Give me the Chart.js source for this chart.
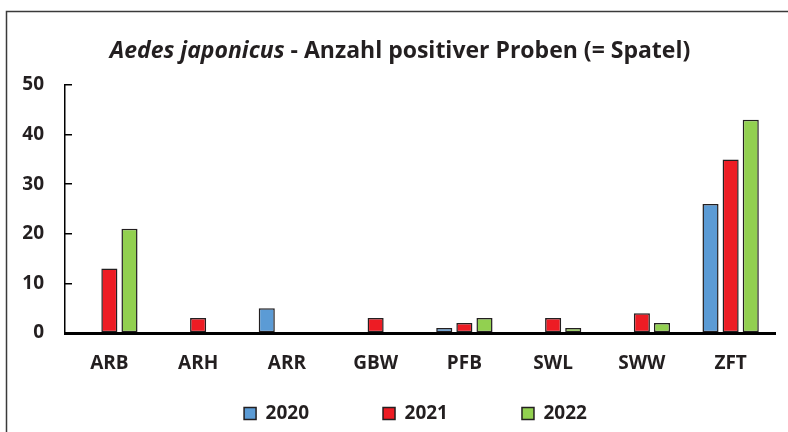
<!DOCTYPE html>
<html>
<head>
<meta charset="utf-8">
<script src="https://cdn.jsdelivr.net/npm/chart.js@4/dist/chart.umd.min.js"></script>
<style>
  body { margin: 0; background: #fff; }
  canvas { display: block; }
</style>
</head>
<body>
<canvas id="probenChart" width="788" height="432"></canvas>
<script>
const categories = ['ARB', 'ARH', 'ARR', 'GBW', 'PFB', 'SWL', 'SWW', 'ZFT'];
const years = ['2020', '2021', '2022'];
const values2020 = [0, 0, 5, 0, 1, 0, 0, 26];
const values2021 = [13, 3, 0, 3, 2, 3, 4, 35];
const values2022 = [21, 0, 0, 0, 3, 1, 2, 43];
const yTicks = [0, 10, 20, 30, 40, 50];

const FONT = '"Open Sans", Lato, sans-serif';
const TEXT_COLOR = '#231f20';

// rahmen + titel (kursiver Artname, Rest normal fett)
const framePlugin = {
    id: 'frame',
    beforeDraw(chart) {
        const ctx = chart.ctx;
        ctx.save();
        ctx.strokeStyle = '#3a3a3a';
        ctx.lineWidth = 1.5;
        ctx.strokeRect(6.5, 11.5, 900, 600);
        ctx.restore();
    },
    afterDraw(chart) {
        const ctx = chart.ctx;
        const part1 = 'Aedes japonicus';
        const part2 = ' - Anzahl positiver Proben (= Spatel)';
        ctx.save();
        ctx.fillStyle = TEXT_COLOR;
        ctx.textBaseline = 'alphabetic';
        ctx.font = 'italic bold 23px ' + FONT;
        const w1 = ctx.measureText(part1).width;
        ctx.font = 'bold 23px ' + FONT;
        const w2 = ctx.measureText(part2).width;
        const x0 = 400 - (w1 + w2) / 2;
        ctx.font = 'italic bold 23px ' + FONT;
        ctx.fillText(part1, x0, 58);
        ctx.font = 'bold 23px ' + FONT;
        ctx.fillText(part2, x0 + w1, 58);
        ctx.restore();
    }
};

// legende flach halten, dann verschieben (clip-bereich mitziehen)
const legendPlugin = {
    id: 'legendFit',
    beforeInit(chart) {
        const fit = chart.legend.fit;
        chart.legend.fit = function () {
            fit.call(this);
            this.height = 39;
        };
    },
    afterLayout(chart) {
        const l = chart.legend;
        l.top -= 63;
        l.bottom = chart.height;
        l.height = l.bottom - l.top;
        l.left += 28;
        l.right += 28;
    }
};

const barStyle = { borderColor: TEXT_COLOR, borderWidth: 1.5, borderSkipped: false };

new Chart(document.getElementById('probenChart'), {
    type: 'bar',
    data: {
        labels: categories,
        datasets: [
            Object.assign({ label: years[0], data: values2020, backgroundColor: '#5b9bd5' }, barStyle),
            Object.assign({ label: years[1], data: values2021, backgroundColor: '#ed1c24' }, barStyle),
            Object.assign({ label: years[2], data: values2022, backgroundColor: '#92d050' }, barStyle)
        ]
    },
    options: {
        responsive: false,
        animation: false,
        devicePixelRatio: 1,
        categoryPercentage: 0.68,
        barPercentage: 0.8,
        layout: {
            padding: { left: 0, right: 13, top: 85, bottom: 0 }
        },
        plugins: {
            title: { display: false },
            tooltip: { enabled: false },
            legend: {
                display: true,
                position: 'bottom',
                labels: {
                    boxWidth: 12,
                    boxHeight: 12,
                    padding: 74,
                    color: TEXT_COLOR,
                    font: { family: FONT, size: 19, weight: 'bold' }
                }
            }
        },
        scales: {
            x: {
                afterFit: s => { s.height = 60; },
                grid: { display: true, drawOnChartArea: false, drawTicks: false },
                border: { color: '#000', width: 3 },
                ticks: {
                    padding: 19,
                    color: TEXT_COLOR,
                    font: { family: FONT, size: 19, weight: 'bold' }
                }
            },
            y: {
                min: 0,
                max: 50,
                afterFit: s => { s.width = 65; },
                afterBuildTicks: s => { s.ticks = yTicks.map(v => ({ value: v })); },
                grid: { display: true, drawOnChartArea: false, drawTicks: true, tickLength: -7, color: '#000', lineWidth: 1.5 },
                border: { color: '#000', width: 1.5 },
                ticks: {
                    padding: 28,
                    color: TEXT_COLOR,
                    font: { family: FONT, size: 19, weight: 'bold' }
                }
            }
        }
    },
    plugins: [framePlugin, legendPlugin]
});
</script>
</body>
</html>
